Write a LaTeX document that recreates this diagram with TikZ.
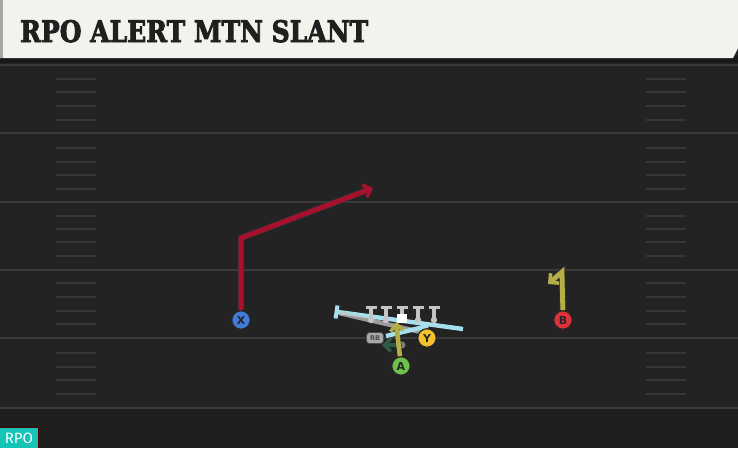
\documentclass[tikz,border=0pt]{standalone}
\usepackage{fontspec}
\usepackage{graphicx}
\usetikzlibrary{arrows.meta}
\newfontfamily\titlefont[FakeBold=3]{DejaVu Serif Bold}
\newfontfamily\lblfont{DejaVu Sans Bold}
\newfontfamily\tagfont{Fira Sans}
\definecolor{fieldbg}{HTML}{232323}
\definecolor{fieldlow}{HTML}{1F1F1F}
\definecolor{yardln}{HTML}{3A3A3A}
\definecolor{hashln}{HTML}{363636}
\definecolor{cream}{HTML}{F4F2EC}
\definecolor{routered}{HTML}{A8102E}
\definecolor{routeolive}{HTML}{B3AE45}
\definecolor{routegreen}{HTML}{2F5A44}
\definecolor{blockblue}{HTML}{A6E0EE}
\definecolor{pblue}{HTML}{3F7CDA}
\definecolor{pred}{HTML}{E0303A}
\definecolor{pyellow}{HTML}{F2C12E}
\definecolor{pgreen}{HTML}{6CC24A}
\definecolor{teal}{HTML}{15C4B6}
\definecolor{linegray}{HTML}{C4C4C4}
\tikzset{
  yard/.style={yardln, line width=2.4pt},
  hashm/.style={hashln, line width=2pt},
  player/.style={circle, draw=black!85, line width=1.2pt, minimum size=18.5pt, inner sep=0pt, font=\lblfont\fontsize{11}{11}\selectfont, text=black!85},
  routebase/.style={line width=4.8pt, line join=miter, preaction={draw=black!80, line width=6.2pt}},
  barb/.style={-{Straight Barb[length=6.5pt,width=13pt,line width=3.5pt]}},
  lineman/.style={linegray, line width=3.8pt}
}
\begin{document}
\begin{tikzpicture}[x=1pt,y=-1pt]
\useasboundingbox (0,0) rectangle (738,448);
% field
\fill[fieldbg] (0,0) rectangle (738,448);
\fill[fieldlow] (0,408) rectangle (738,448);
\fill[black!90] (0,56) rectangle (738,63);
% yard lines
\foreach \yy in {65,133,202,270,338,408} \draw[yard] (0,\yy) -- (738,\yy);
% hash marks
\foreach \yy in {79,92,106,120,148,162,175,189,216,229,242,256,283,297,311,324,353,367,380,394} {
  \draw[hashm] (56,\yy) -- (96,\yy);
  \draw[hashm] (646,\yy) -- (686,\yy);
}
% title bar
\fill[cream] (0,0) -- (738,0) -- (738,48) -- (733,58) -- (0,58) -- cycle;
\fill[black!35] (0,0) rectangle (3,58);
\node[anchor=base west, inner sep=0pt, text=black!88] (title) at (20,42) {\resizebox{348pt}{22pt}{\titlefont RPO ALERT MTN SLANT}};
% RPO tag
\fill[teal] (0,428) rectangle (38,448);
\draw[red!30!black, line width=0.8pt] (0,427.5) -- (38.5,427.5) -- (38.5,448);
\node[text=white, font=\tagfont\fontsize{15}{15}\selectfont, inner sep=0pt] (tag) at (19,438.5) {RPO};

% blocking lines
\draw[blockblue, line width=4.4pt] (338,312) -- (463,329);
\draw[blockblue, line width=4pt] (337.5,305.5) -- (335.5,318.5);
\draw[linegray, opacity=0.75, line width=4.4pt] (339,313) -- (425,333);
\draw[blockblue, line width=4.4pt] (386,336) -- (428,326);

% offensive line
\foreach \xx [count=\i] in {371,386,402,418,434} {
  \coordinate (ol\i) at (\xx,320);
  \draw[lineman] (\xx-5.5,307.5) -- (\xx+5.5,307.5);
  \draw[lineman] (\xx,307.5) -- (ol\i);
  \fill[linegray] (ol\i) circle (3.2pt);
}
\fill[white] (397,313.5) rectangle (407,323);

% RB
\node[fill=linegray!85!black, rounded corners=3pt, draw=black!70, line width=0.7pt, minimum width=17pt, minimum height=11pt, inner sep=0pt, font=\lblfont\fontsize{6.5}{6.5}\selectfont, text=black!70] (RB) at (375,338) {RB};
\coordinate (rbs) at (402,345);
\coordinate (rbe) at (382,345);
\fill[gray] (rbs) circle (3.4pt);
\draw[routegreen, line width=4pt, barb] (rbs) -- (rbe);

% players
\node[player, fill=pblue] (X) at (241,320) {X};
\node[player, fill=pred] (B) at (563,320) {B};
\node[player, fill=pyellow] (Y) at (427,338) {Y};
\node[player, fill=pgreen] (A) at (401,366) {A};

% routes
\coordinate (x1) at (241,238);
\coordinate (x2) at (373,188);
\draw[routebase, routered, barb] (X) -- (x1) -- (x2);
\coordinate (b1) at (562,272);
\coordinate (b2) at (548,284);
\draw[routebase, routeolive, barb] (B) -- (b1) -- (b2);
\coordinate (a1) at (396,322);
\draw[routeolive, line width=4.6pt, barb] (A) -- (a1);
\end{tikzpicture}
\end{document}
